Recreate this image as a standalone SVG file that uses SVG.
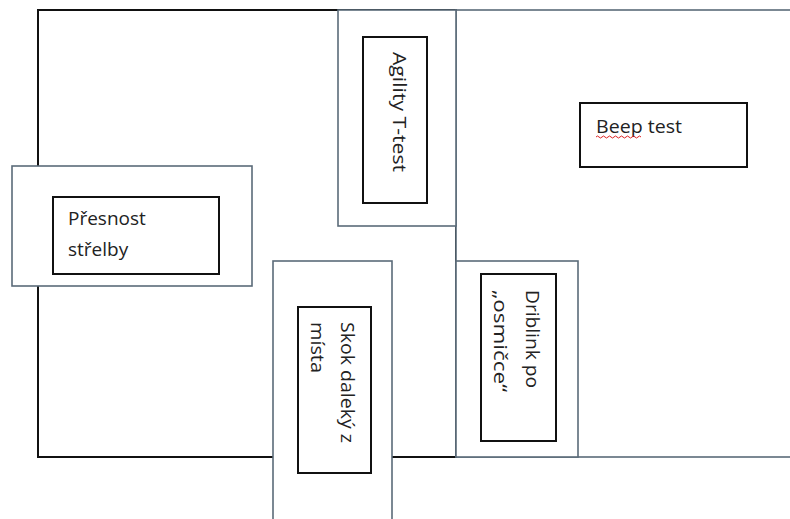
<svg xmlns="http://www.w3.org/2000/svg" width="790" height="519" viewBox="0 0 790 519">
<style>
.outer{fill:#fff;stroke:#5b6b79;stroke-width:1.6}
.inner{fill:#fff;stroke:#111;stroke-width:2}
.frame{fill:#fff;stroke:#111;stroke-width:2}
.t{font-family:"Open Sans","Liberation Sans",sans-serif;font-size:19px;fill:#222}
</style>
<rect width="790" height="519" fill="#fff"/>
<g id="field-left"><rect class="frame" x="38" y="10" width="418" height="447"/></g>
<g id="field-right"><rect class="outer" x="456" y="10" width="345" height="447"/></g>
<g id="agility">
<rect class="outer" x="338" y="10" width="118" height="216"/>
<rect class="inner" x="363" y="37" width="64" height="166"/>
<text class="t" transform="translate(393,52) rotate(90)" textLength="120" lengthAdjust="spacingAndGlyphs">Agility T-test</text>
</g>
<g id="presnost">
<rect class="outer" x="12" y="166" width="240" height="120"/>
<rect class="inner" x="53" y="197" width="166" height="77"/>
<text class="t" x="68" y="225">Přesnost</text>
<text class="t" x="68" y="256">střelby</text>
</g>
<g id="skok">
<rect class="outer" x="273" y="261" width="119" height="270"/>
<rect class="inner" x="298" y="307" width="73" height="166"/>
<text class="t" transform="translate(341,322) rotate(90)" textLength="121" lengthAdjust="spacingAndGlyphs">Skok daleký z</text>
<text class="t" transform="translate(311,322) rotate(90)" textLength="51" lengthAdjust="spacingAndGlyphs">místa</text>
</g>
<g id="dribling">
<rect class="outer" x="456" y="261" width="122" height="196"/>
<rect class="inner" x="481" y="274" width="75" height="167"/>
<text class="t" transform="translate(526,290) rotate(90)" textLength="98" lengthAdjust="spacingAndGlyphs">Driblink po</text>
<text class="t" transform="translate(494,290) rotate(90)" textLength="102" lengthAdjust="spacingAndGlyphs">„osmičce“</text>
</g>
<g id="beep">
<rect class="inner" x="580" y="103" width="167" height="64"/>
<text class="t" x="596" y="133" textLength="86" lengthAdjust="spacingAndGlyphs">Beep test</text>
<path d="M596 137 q1.5 -2 3 0 t3 0 t3 0 t3 0 t3 0 t3 0 t3 0 t3 0 t3 0 t3 0 t3 0 t3 0 t3 0 t3 0 t3 0" fill="none" stroke="#d22" stroke-width="1"/>
</g>
<g id="connectors"></g>
</svg>
